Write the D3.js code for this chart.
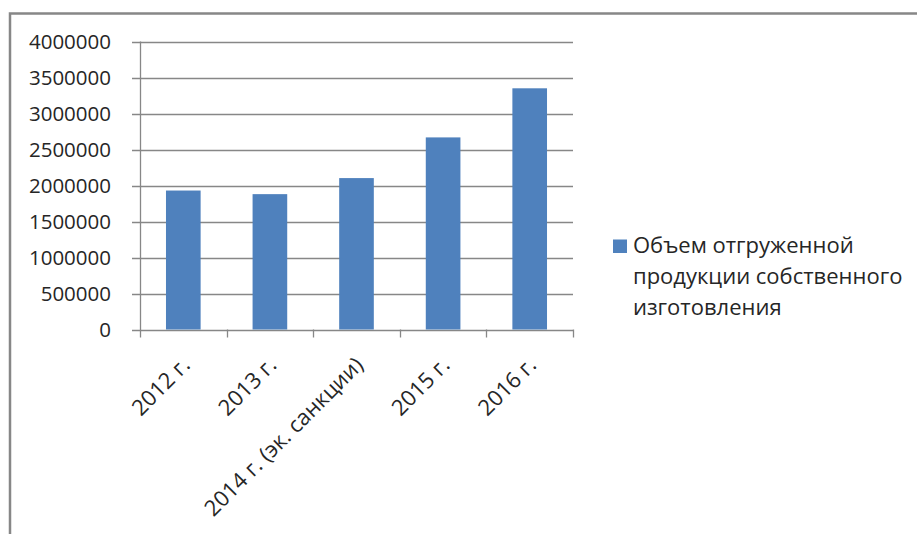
<!DOCTYPE html>
<html>
<head>
<meta charset="utf-8">
<script src="https://cdn.jsdelivr.net/npm/d3@7"></script>
<style>
  html, body { margin: 0; padding: 0; background: #fff; }
  svg { display: block; font-family: "Open Sans", Lato, sans-serif; }
</style>
</head>
<body>
<svg id="chart" width="917" height="534"></svg>
<script>
// Volume of shipped products of own manufacture, by year
const categories = ["2012 г.", "2013 г.", "2014 г. (эк. санкции)", "2015 г.", "2016 г."];
const values = [1930000, 1880000, 2103000, 2668000, 3350000];
const yTicks = [0, 500000, 1000000, 1500000, 2000000, 2500000, 3000000, 3500000, 4000000];
const seriesName = ["Объем отгруженной", "продукции собственного", "изготовления"];

const svg = d3.select("#chart");
const gridColor = "#878787";
const textColor = "#262626";
const barColor = "#4F81BD";
const tickFont = 20.5;
const labelFont = 22;

// outer chart frame
svg.append("rect")
  .attr("x", 10).attr("y", 13.5)
  .attr("width", 930).attr("height", 540)
  .attr("fill", "none")
  .attr("stroke", gridColor)
  .attr("stroke-width", 2.5);

const plot = { left: 140, right: 573, top: 41.5, bottom: 329.5 };

const x = d3.scaleBand()
  .domain(categories)
  .range([plot.left, plot.right])
  .paddingInner(0.6)
  .paddingOuter(0.3);

const y = d3.scaleLinear()
  .domain([0, 4000000])
  .range([plot.bottom, plot.top]);

// horizontal gridlines
svg.append("g")
  .selectAll("line")
  .data(yTicks)
  .join("line")
  .attr("x1", plot.left - 8)
  .attr("x2", plot.right)
  .attr("y1", d => Math.round(y(d)) + 0.5)
  .attr("y2", d => Math.round(y(d)) + 0.5)
  .attr("stroke", gridColor)
  .attr("stroke-width", 1.3);

// y-axis labels
svg.append("g")
  .selectAll("text")
  .data(yTicks)
  .join("text")
  .attr("x", 111)
  .attr("y", d => y(d))
  .attr("dy", "0.36em")
  .attr("text-anchor", "end")
  .attr("font-size", tickFont)
  .attr("fill", textColor)
  .text(d => d3.format("d")(d));

// vertical axis line
svg.append("line")
  .attr("x1", plot.left + 0.5).attr("x2", plot.left + 0.5)
  .attr("y1", plot.top).attr("y2", plot.bottom + 8)
  .attr("stroke", gridColor)
  .attr("stroke-width", 1.3);

// category boundary ticks
const bounds = d3.range(1, categories.length + 1)
  .map(i => plot.left + i * (plot.right - plot.left) / categories.length);
svg.append("g")
  .selectAll("line")
  .data(bounds)
  .join("line")
  .attr("x1", d => Math.round(d) + 0.5)
  .attr("x2", d => Math.round(d) + 0.5)
  .attr("y1", plot.bottom)
  .attr("y2", plot.bottom + 8)
  .attr("stroke", gridColor)
  .attr("stroke-width", 1.3);

// bars
svg.append("g")
  .selectAll("rect")
  .data(values)
  .join("rect")
  .attr("x", (d, i) => x(categories[i]))
  .attr("width", x.bandwidth())
  .attr("y", d => y(d))
  .attr("height", d => y(0) - y(d))
  .attr("fill", barColor);

// rotated category labels
svg.append("g")
  .selectAll("text")
  .data(categories)
  .join("text")
  .attr("text-anchor", "end")
  .attr("font-size", labelFont)
  .attr("fill", textColor)
  .attr("transform", d => `translate(${x(d) + x.bandwidth() / 2 + 8},${plot.bottom + 37}) rotate(-45)`)
  .text(d => d);

// legend
const legend = svg.append("g");
legend.append("rect")
  .attr("x", 613).attr("y", 239.5)
  .attr("width", 14).attr("height", 13.5)
  .attr("fill", barColor);
legend.append("g")
  .selectAll("text")
  .data(seriesName)
  .join("text")
  .attr("x", 633)
  .attr("y", (d, i) => 253 + i * 31)
  .attr("font-size", labelFont)
  .attr("fill", textColor)
  .text(d => d);
</script>
</body>
</html>
